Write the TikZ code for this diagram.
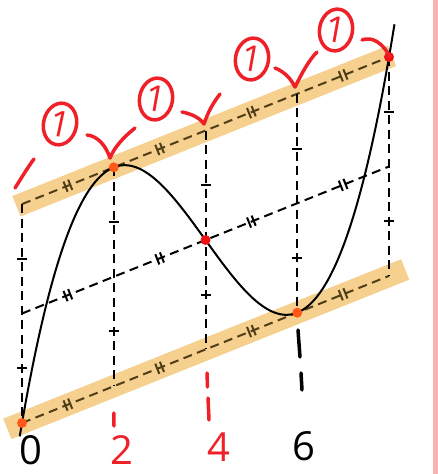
\documentclass[tikz,border=0pt]{standalone}
\usepackage{fontspec}
\setmainfont{Open Sans}
\usetikzlibrary{calc,shapes.geometric}
\definecolor{bandfill}{RGB}{245,208,142}
\definecolor{penred}{RGB}{240,32,40}
\definecolor{dotorange}{RGB}{255,88,24}
\definecolor{dotred}{RGB}{238,18,18}
\definecolor{dashbrown}{RGB}{80,62,24}
\definecolor{edgepink}{RGB}{250,178,178}

\begin{document}
\begin{tikzpicture}[x=1pt, y=-1pt]
  \tikzstyle{band} = [line width=22pt, bandfill]
  \tikzstyle{guide} = [line width=2pt, dash pattern=on 9pt off 5.5pt]
  \tikzstyle{tick} = [line width=2pt]
  \tikzstyle{pen} = [penred, line width=3.5pt, line cap=round, line join=round]
  \tikzstyle{onebox} = [ellipse, draw=penred, text=penred, line width=3.5pt, minimum width=33pt, minimum height=42pt, inner sep=0pt, font=\fontsize{36}{36}\selectfont]
  \tikzstyle{dotpt} = [circle, inner sep=0pt, minimum size=10pt]
  \tikzstyle{axlabel} = [inner sep=0pt, font=\fontsize{40}{40}\selectfont]

  \useasboundingbox (0,0) rectangle (438,474);
  \fill[edgepink] (433,0) rectangle (438,474);

  % points on the curve
  \coordinate (p0) at (22,423);
  \coordinate (p2) at (113.75,167.32);
  \coordinate (p4) at (205.5,240);
  \coordinate (p6) at (297.25,312.68);
  \coordinate (p8) at (389,57);

  % ends of the three slanted lines
  \coordinate (tl) at (22,204.08);
  \coordinate (tr) at (p8);
  \coordinate (ml) at (22,313.52);
  \coordinate (mr) at (389,166.48);
  \coordinate (bl) at (p0);
  \coordinate (br) at (389,275.92);

  \foreach \i/\f in {0/0,2/.25,4/.5,6/.75,8/1} {
    \coordinate (T\i) at ($(tl)!\f!(tr)$);
    \coordinate (M\i) at ($(ml)!\f!(mr)$);
    \coordinate (B\i) at ($(bl)!\f!(br)$);
  }

  % highlight bands
  \draw[band] ($(tl)!-0.015!(tr)$) -- ($(tl)!1.008!(tr)$);
  \draw[band] ($(bl)!-0.04!(br)$) -- ($(bl)!1.044!(br)$);

  % slanted lines
  \draw[guide, dashbrown] (tl) -- (tr);
  \draw[guide] (ml) -- (mr);
  \draw[guide, dashbrown] (bl) -- (br);

  % vertical lines
  \foreach \i in {0,2,4,6,8} {
    \draw[guide] (T\i) -- (B\i);
    \draw[tick] ($(T\i)!.5!(M\i)$) +(-5pt,0) -- +(5pt,0);
    \draw[tick] ($(M\i)!.5!(B\i)$) +(-5pt,0) -- +(5pt,0);
  }

  % double ticks on the slanted lines
  \foreach \f in {.125,.375,.625,.875} {
    \draw[tick, dashbrown, shift={($(tl)!\f!(tr)$)}, rotate=21.8] (-2.5pt,-5.5pt) -- (-2.5pt,5.5pt) (2.5pt,-5.5pt) -- (2.5pt,5.5pt);
    \draw[tick, shift={($(ml)!\f!(mr)$)}, rotate=21.8] (-2.5pt,-5.5pt) -- (-2.5pt,5.5pt) (2.5pt,-5.5pt) -- (2.5pt,5.5pt);
    \draw[tick, dashbrown, shift={($(bl)!\f!(br)$)}, rotate=21.8] (-2.5pt,-5.5pt) -- (-2.5pt,5.5pt) (2.5pt,-5.5pt) -- (2.5pt,5.5pt);
  }

  % the cubic
  \draw[line width=2pt] plot[domain=-0.05:8.12, samples=120, smooth] ({22+45.875*\x}, {240-(6.84*(\x-4)*(\x-4)*(\x-4)-63.7*(\x-4))});

  % marked points
  \node[dotpt, fill=dotorange] (d0) at (p0) {};
  \node[dotpt, fill=dotorange] (d2) at (p2) {};
  \node[dotpt, fill=dotred] (d4) at (p4) {};
  \node[dotpt, fill=dotorange] (d6) at (p6) {};
  \node[dotpt, fill=dotred] (d8) at (p8) {};

  % strokes below the bottom line
  \draw[pen] (113.75,413) -- (114,426);
  \draw[pen] (207,373) -- (207.5,387);
  \draw[pen] (208,398) -- (209,420);
  \draw[pen, black] (298,330) -- (300,357);
  \draw[pen, black] (301,373) -- (302,390);

  % axis numbers
  \node[axlabel] (l0) at (31,450) {0};
  \node[axlabel, text=penred] (l2) at (122,450) {2};
  \node[axlabel, text=penred] (l4) at (219,447) {4};
  \node[axlabel] (l6) at (304,446) {6};

  % red marks above the top line
  \draw[pen] (15,188) .. controls (22,177) and (28,167) .. (34,159);
  \draw[pen] (87,135) .. controls (98,136) and (106,146) .. (110,158) .. controls (115,146) and (124,137) .. (135,128);
  \draw[pen] (182,112) .. controls (192,114) and (200,118) .. (204,124) .. controls (208,112) and (213,103) .. (220,94);
  \draw[pen] (275,68) .. controls (285,72) and (291,79) .. (295,87) .. controls (302,73) and (309,60) .. (317,52);
  \draw[pen] (362,40) .. controls (372,36) and (383,43) .. (390,57);

  \node[onebox, rotate=-12] (c1) at (60,124) {1};
  \node[onebox, rotate=-10] (c2) at (156,99) {1};
  \node[onebox, rotate=-10] (c3) at (252,59) {1};
  \node[onebox, rotate=-10] (c4) at (336,30) {1};
\end{tikzpicture}
\end{document}
